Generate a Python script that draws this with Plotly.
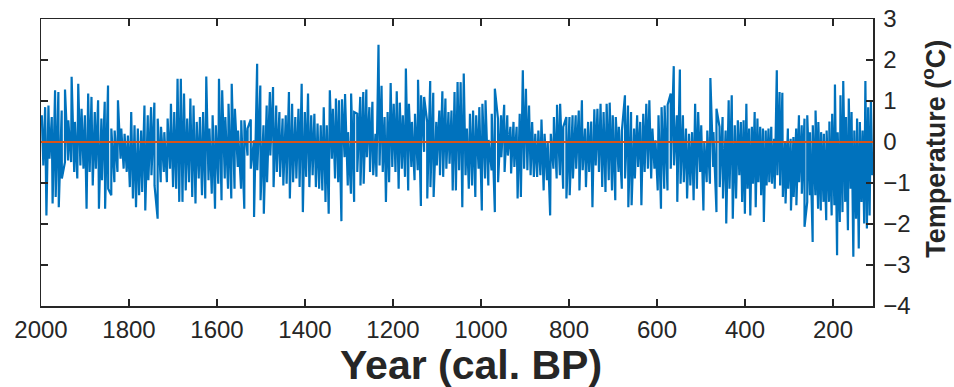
import numpy as np
import plotly.graph_objects as go

# Block boundaries of the record (years cal. BP)
period_edges = [2000, 1684, 1366, 1048, 730, 411, 109]

# Local maxima (upper spikes) read per period, degC
peaks_2000_1684 = [0.65, 0.85, 0.89, 0.61, 1.26, 1.22, 0.77, 1.28, 0.53, 1.59, 0.49, 1.42, 0.81, 0.65,
                   1.18, 1.10, 0.73, 1.02, 0.57, 0.98, 1.38, 0.33, 0.28, 1.02, 0.33, 0.20, 0.16, 0.73,
                   0.41, 0.33, 0.28, 0.89, 0.65, 0.85, 0.96, 0.57, 0.37, 0.24, 0.57, 0.93, 0.73, 1.54]
peaks_1684_1366 = [1.54, 1.18, 0.57, 1.06, 0.89, 0.49, 0.61, 0.73, 1.60, 0.33, 0.65, 0.41, 1.54, 1.26,
                   0.61, 0.93, 1.42, 0.81, 0.28, 0.53, 0.53, 0.33, 0.55, 0.04, 1.91, 1.38, 0.41, 0.89,
                   1.22, 1.34, 0.89, 0.73, 0.57, 0.65, 1.22, 0.93, 0.61, 0.81, 1.42, 0.73, 1.18, 0.65,
                   0.69, 0.45]
peaks_1366_1048 = [0.41, 0.85, 0.41, 1.26, 0.81, 1.06, 1.02, 1.04, 1.17, 0.24, 1.18, 0.73, 0.69, 1.10,
                   1.22, 1.28, 0.85, 0.98, 0.20, 2.37, 1.37, 0.61, 0.73, 1.44, 0.93, 1.24, 0.96, 0.65,
                   1.79, 0.93, 0.49, 0.69, 1.52, 1.14, 1.10, 0.49, 1.49, 1.20, 0.49, 0.77, 1.24, 1.06,
                   0.73, 0.77, 1.22, 1.46]
peaks_1048_730 = [1.46, 1.67, 0.33, 0.69, 0.77, 0.65, 0.85, 0.93, 1.02, 0.05, 0.69, 1.30, 0.57, 0.65,
                  0.91, 0.65, 0.37, 0.49, 0.37, 0.69, 1.75, 1.30, 0.89, 0.49, 0.20, 0.28, 0.55, 0.20,
                  0.02, 0.20, 0.61, 0.91, 0.93, 0.37, 0.61, 0.61, 0.65, 0.65, 0.77, 1.02, 0.33, 0.49,
                  0.50, 0.80, 0.81]
peaks_730_411 = [0.93, 0.73, 0.93, 0.96, 0.65, 0.61, 0.37, 0.28, 1.14, 0.89, 0.73, 0.33, 0.65, 0.49,
                 0.69, 0.93, 1.02, 0.33, 0.04, 0.65, 0.85, 0.89, 0.91, 1.18, 1.85, 0.65, 1.77, 0.65,
                 0.33, 0.20, 0.24, 0.93, 0.73, 0.41, 0.02, 0.28, 1.56, 0.24, 0.81, 0.37, 0.61, 0.28,
                 1.02, 1.14, 0.41, 0.53]
peaks_411_109 = [0.49, 0.53, 0.93, 0.33, 0.37, 0.73, 0.57, 0.37, 0.33, 0.28, 0.33, 0.37, 0.08, 1.75,
                 1.22, 1.20, 0.02, 0.33, 0.08, 0.12, 0.33, 0.65, 0.41, 0.57, 0.65, 0.24, 0.41, 0.77,
                 0.49, 0.24, 0.20, 0.28, 0.50, 0.69, 1.40, 0.24, 1.14, 1.49, 0.61, 1.06, 0.73, 0.28,
                 0.57, 0.49, 0.28, 1.49, 0.85, 1.00]

# Local minima (lower spikes) read per period, degC
troughs_2000_1684 = [-0.57, -1.79, -0.41, -1.50, -1.34, -1.59, -0.89, -0.49, -0.45, -0.49, -0.73, -0.89,
                     -0.57, -0.65, -1.63, -0.73, -1.06, -0.65, -1.63, -0.93, -1.63, -1.14, -1.30, -0.98,
                     -0.73, -0.41, -0.65, -0.73, -1.10, -1.38, -1.59, -1.30, -1.22, -1.67, -0.93, -0.81,
                     -1.06, -1.87, -0.98, -0.73, -0.98, -0.65, -1.10, -1.14, -1.46]
troughs_1684_1366 = [-1.46, -1.18, -0.98, -1.34, -1.50, -0.89, -1.30, -1.38, -0.93, -1.26, -1.63, -1.02,
                     -1.42, -0.89, -1.14, -1.38, -1.14, -0.61, -1.14, -1.63, -0.33, -0.65, -1.83, -0.69,
                     -1.42, -1.75, -0.98, -0.33, -1.10, -0.73, -0.85, -1.06, -1.02, -1.38, -0.98, -0.89,
                     -1.10, -1.71, -0.85, -1.10, -0.81, -1.10, -1.14]
troughs_1366_1048 = [-1.18, -1.46, -1.75, -0.41, -0.89, -0.98, -1.93, -0.37, -1.06, -1.26, -1.46, -0.73,
                     -1.06, -1.02, -0.37, -0.73, -0.81, -0.85, -0.57, -0.73, -1.46, -0.98, -0.61, -0.73,
                     -1.14, -0.65, -0.85, -1.18, -0.61, -0.93, -0.69, -1.56, -0.24, -1.38, -1.10, -1.34,
                     -0.57, -0.81, -0.85, -0.65, -0.53, -1.18, -1.18, -0.69]
troughs_1048_730 = [-1.59, -0.81, -1.14, -1.06, -1.34, -0.65, -1.67, -0.89, -1.06, -0.69, -1.71, -0.98,
                    -0.37, -0.73, -0.33, -0.77, -0.61, -1.38, -1.34, -0.65, -0.69, -0.81, -0.85, -0.85,
                    -0.81, -1.18, -0.93, -1.79, -0.65, -0.89, -0.81, -1.14, -1.38, -1.30, -0.89, -0.65,
                    -1.18, -0.69, -1.10, -0.73, -1.59, -0.57, -0.73]
troughs_730_411 = [-1.10, -1.22, -0.93, -1.18, -1.42, -0.73, -1.14, -0.89, -1.59, -1.54, -0.89, -0.61,
                   -1.54, -0.73, -0.65, -0.89, -0.65, -1.18, -1.63, -1.14, -1.18, -0.65, -0.57, -1.46,
                   -1.02, -0.98, -1.38, -1.06, -1.42, -1.14, -0.73, -1.67, -0.98, -1.02, -0.61, -1.71,
                   -1.10, -1.38, -1.99, -1.14, -1.87, -1.38, -0.81]
troughs_411_109 = [-1.46, -1.75, -1.14, -1.79, -1.02, -1.59, -0.98, -1.30, -1.95, -1.06, -0.98, -1.02,
                   -1.14, -0.81, -1.06, -1.34, -1.50, -1.14, -1.67, -1.34, -1.54, -0.98, -1.26, -2.07,
                   -1.46, -1.30, -2.44, -1.30, -1.63, -1.67, -1.46, -1.91, -1.46, -1.79, -1.54, -2.76,
                   -1.95, -1.71, -1.46, -2.15, -1.14, -2.80, -1.87, -2.60, -1.46, -1.99, -2.11, -1.79,
                   -0.81]

peaks = [peaks_2000_1684, peaks_1684_1366, peaks_1366_1048, peaks_1048_730, peaks_730_411, peaks_411_109]
troughs = [troughs_2000_1684, troughs_1684_1366, troughs_1366_1048, troughs_1048_730, troughs_730_411,
           troughs_411_109]

x_ticks = [2000, 1800, 1600, 1400, 1200, 1000, 800, 600, 400, 200]
y_ticks = [3, 2, 1, 0, -1, -2, -3, -4]

years, temps = [], []
for k in range(len(peaks)):
    a, b = period_edges[k], period_edges[k + 1]
    n = len(peaks[k])
    for i, v in enumerate(peaks[k]):
        years.append(a - (i + 0.25) * (a - b) / n)
        temps.append(v)
    m = len(troughs[k])
    for i, v in enumerate(troughs[k]):
        years.append(a - (i + 0.75) * (a - b) / m)
        temps.append(v)
years = np.array(years)
temps = np.array(temps)
order = np.argsort(-years)
years, temps = years[order], temps[order]

AX = "#262626"
FAM = "Liberation Sans, Arial, sans-serif"
TICKFONT = dict(family=FAM, size=24, color=AX)

fig = go.Figure()
fig.add_trace(go.Scatter(x=years, y=temps, mode="lines",
                         line=dict(color="#0072BD", width=2.2), hoverinfo="skip", showlegend=False))
fig.add_hline(y=0, line=dict(color="#D95319", width=2))

fig.update_layout(
    width=954, height=387, autosize=False,
    margin=dict(l=41, r=81, t=19, b=81, autoexpand=False),
    paper_bgcolor="white", plot_bgcolor="white",
    showlegend=False,
    xaxis=dict(range=[2000, 109], tickvals=x_ticks, ticktext=[str(t) for t in x_ticks],
               ticks="inside", ticklen=7, tickwidth=1.5, tickcolor=AX, automargin=False,
               showline=True, linecolor=AX, linewidth=1.5, mirror="ticks",
               showgrid=False, zeroline=False, tickfont=TICKFONT, ticklabelstandoff=2,
               ticklabeloverflow="allow"),
    yaxis=dict(range=[-4, 3], tickvals=y_ticks, side="right", automargin=False,
               ticks="inside", ticklen=7, tickwidth=1.5, tickcolor=AX,
               showline=True, linecolor=AX, linewidth=1.5, mirror="ticks",
               showgrid=False, zeroline=False, tickfont=TICKFONT, ticklabelstandoff=4,
               ticklabeloverflow="allow"),
    annotations=[
        dict(text="<b>Year (cal. BP)</b>", xref="paper", yref="paper", x=0.517, y=-0.207,
             xanchor="center", yanchor="middle", showarrow=False,
             font=dict(family=FAM, size=41, color=AX)),
        dict(text="<b>Temperature (<sup>o</sup>C)</b>", xref="paper", yref="paper", x=1.073, y=0.547,
             xanchor="center", yanchor="middle", showarrow=False, textangle=-90,
             font=dict(family=FAM, size=27, color=AX)),
    ],
)

# remove the browser's default 8 px body margin so the figure fills the window exactly
fig.write_html("out.html", config={"displayModeBar": False, "staticPlot": True},
               post_script="document.body.style.margin='0';")
